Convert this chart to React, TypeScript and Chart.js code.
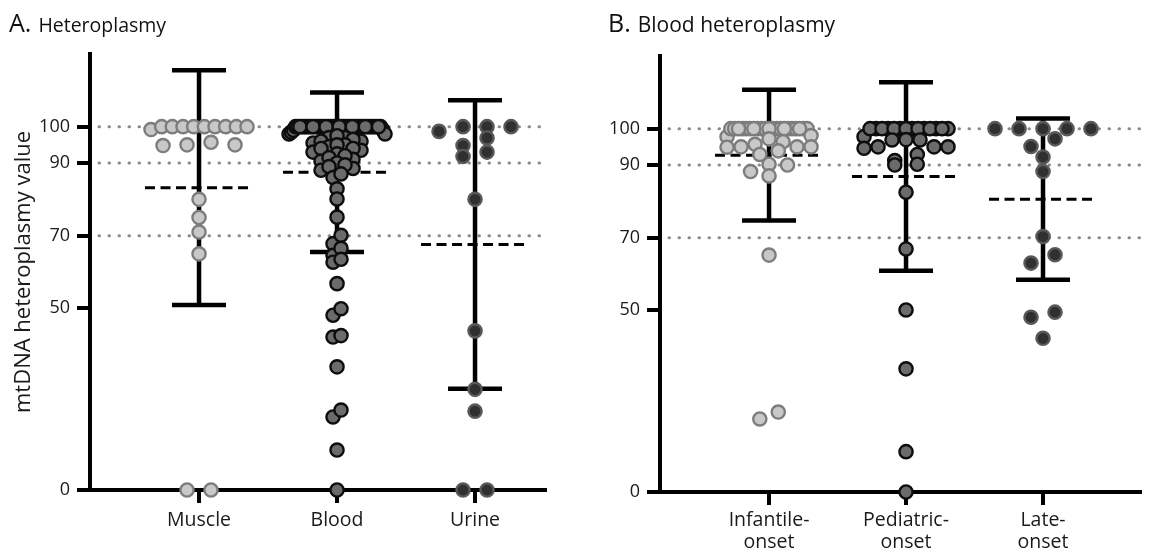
import React, { useEffect, useRef } from 'react';
import { Chart, registerables } from 'chart.js';

Chart.register(...registerables);

const FONT = '"Open Sans", "Noto Sans", sans-serif';

// ---------- data ----------
const CATEGORIES_A = ['Muscle', 'Blood', 'Urine'];
const CATEGORIES_B = [['Infantile-', 'onset'], ['Pediatric-', 'onset'], ['Late-', 'onset']];
const Y_TICKS = [0, 50, 70, 90, 100];
const REF_LINES = [100, 90, 70];

const muscle = [100, 100, 100, 100, 100, 100, 100, 100, 100, 99.2, 95.7, 95, 95, 94.8, 80, 75, 71, 65, 0, 0];
const blood = [
  100, 100, 100, 100, 100, 100, 100, 100, 100, 100,
  100, 100, 100, 100, 100, 100, 100, 100, 100, 100,
  100, 100, 100, 100, 100, 100, 100, 100, 100, 100,
  100, 100, 100, 100, 100, 100, 100, 100, 100, 100,
  99, 99, 98.5, 98, 98, 97.5, 97, 97, 96.5, 96, 96, 95.5, 95, 95, 94.5, 94, 94, 93.5, 93, 92.5,
  92, 91.5, 91, 90.5, 90, 89.5, 89, 88.5, 88, 87, 86,
  82.9, 80.1, 75.1, 70.1, 67.8, 66.5, 64.6, 63.5, 62.7, 56.8, 49.9, 48.1, 42.1, 42.5, 33.9, 22, 20.1, 11, 0,
];
const urine = [100, 100, 100, 98.7, 96.9, 94.8, 93, 91.8, 80, 43.8, 27.7, 21.7, 0, 0];
const infantile = [
  100, 100, 100, 100, 100, 100, 100, 100, 100, 100, 100, 100, 100, 100, 100, 100, 100, 100, 100, 100, 100,
  98.1, 97.8, 97.2, 96.4, 95.7, 95, 95, 94.9, 95, 93.9, 92.9, 90.2, 90, 88.2, 87, 65.2, 22, 20.1,
];
const pediatric = [
  100, 100, 100, 100, 100, 100, 100, 100, 100, 100, 100, 100, 100, 100,
  97.8, 96.9, 97, 94.6, 95, 95, 95, 96.9, 92.9, 90.2, 90, 91.2, 82.5, 66.9, 50.1, 33.9, 11.1, 0,
];
const lateOnset = [100, 100, 100, 100, 100, 97.2, 95.1, 92.2, 88.2, 70.3, 65.3, 63, 49.5, 48.1, 42.3];

const meansA = [83.2, 87.45, 67.6];
const sdsA = [32.3, 21.95, 39.7];
const meansB = [92.7, 86.85, 80.6];
const sdsB = [18.0, 25.95, 22.2];

// ---------- styles ----------
const STYLE_LIGHT = { fill: '#c8c8c8', border: '#7d7d7d' };
const STYLE_MED = { fill: '#6b6b6b', border: '#0d0d0d' };
const STYLE_DARK = { fill: '#303030', border: '#595959' };

// Prism-like scatter layout: values grouped into rows, each row centred and spread.
// Returns the points in drawing order.
function swarmPoints(values: number[], center: number, pxPerX: number, maxHalf: number) {
  const ROW_TOL = 2.5;
  const sMax = Math.min(24, (24 * 30) / values.length);
  const order = values.map((_, i) => i).sort((a, b) => values[b] - values[a]);
  const rows: number[][] = [];
  let row: number[] | null = null;
  for (const i of order) {
    if (row && values[row[0]] - values[i] < ROW_TOL) row.push(i);
    else { row = [i]; rows.push(row); }
  }
  const pts: { x: number; y: number }[] = [];
  for (const r of rows) {
    const m = r.length;
    const s = m > 1 ? Math.min(sMax, (2 * maxHalf) / (m - 1)) : 0;
    const pos: number[] = [];
    for (let k = 0; k < m; k++) pos.push((k - (m - 1) / 2) * s);
    const slotOrder = pos.map((_, k) => k).sort((a, b) => Math.abs(pos[a]) - Math.abs(pos[b]) || pos[b] - pos[a]);
    const slotVal: number[] = new Array(m);
    r.forEach((idx, j) => { slotVal[slotOrder[j]] = values[idx]; });
    const stride = s > 0 ? Math.max(1, Math.round(14 / s)) : 1;
    const drawK = pos.map((_, k) => k).sort((a, b) => (a % stride) - (b % stride) || a - b);
    for (const k of drawK) pts.push({ x: center + pos[k] / pxPerX, y: slotVal[k] });
  }
  return pts;
}

const decorPlugin = {
  id: 'panelDecor',
  beforeDatasetsDraw(chart: any, _args: any, opts: any) {
    const { ctx, chartArea, scales } = chart;
    const xs = scales.x, ys = scales.y;
    ctx.save();
    ctx.strokeStyle = '#8a8a8a';
    ctx.lineWidth = 3;
    ctx.lineCap = 'round';
    ctx.setLineDash([0.5, 9.5]);
    for (const v of opts.refLines) {
      const py = ys.getPixelForValue(v);
      ctx.beginPath();
      ctx.moveTo(chartArea.left + 9, py);
      ctx.lineTo(chartArea.right, py);
      ctx.stroke();
    }
    ctx.setLineDash([]);
    ctx.lineCap = 'butt';
    ctx.strokeStyle = '#000';
    ctx.lineWidth = 4.5;
    opts.means.forEach((m: number, i: number) => {
      const px = xs.getPixelForValue(i + 1);
      const hi = ys.getPixelForValue(m + opts.sds[i]);
      const lo = ys.getPixelForValue(m - opts.sds[i]);
      ctx.beginPath();
      ctx.moveTo(px, hi); ctx.lineTo(px, lo);
      ctx.moveTo(px - 27, hi); ctx.lineTo(px + 27, hi);
      ctx.moveTo(px - 27, lo); ctx.lineTo(px + 27, lo);
      ctx.stroke();
    });
    ctx.lineWidth = 3;
    ctx.setLineDash([10, 5.5]);
    opts.means.forEach((m: number, i: number) => {
      const px = xs.getPixelForValue(i + 1);
      const py = ys.getPixelForValue(m);
      ctx.beginPath();
      ctx.moveTo(px - 54, py);
      ctx.lineTo(px + 54, py);
      ctx.stroke();
    });
    ctx.restore();
  },
  afterDraw(chart: any, _args: any, opts: any) {
    const { ctx } = chart;
    ctx.save();
    ctx.fillStyle = '#111';
    ctx.textBaseline = 'alphabetic';
    ctx.font = `${opts.letterSize}px ${FONT}`;
    ctx.fillText(opts.letter, opts.tx, opts.ty);
    const w = ctx.measureText(opts.letter).width;
    ctx.font = `${opts.textSize}px ${FONT}`;
    ctx.fillText(opts.text, opts.tx + w + 7, opts.ty);
    ctx.restore();
  },
};

interface PanelProps {
  width: number;
  groups: number[][];
  styles: { fill: string; border: string }[];
  categories: (string | string[])[];
  means: number[];
  sds: number[];
  xMin: number;
  xMax: number;
  pxPerX: number;
  maxHalf: number[];
  padding: { left: number; top: number; right: number; bottom: number };
  yWidth: number;
  xHeight: number;
  xLabelPad: number;
  yTitle: string | null;
  letter: string;
  text: string;
  tx: number;
  letterSize: number;
  textSize: number;
}

function Panel(p: PanelProps) {
  const ref = useRef<HTMLCanvasElement>(null);
  useEffect(() => {
    if (!ref.current) return;
    const datasets = p.groups.map((vals, gi) => ({
      data: swarmPoints(vals, gi + 1, p.pxPerX, p.maxHalf[gi]),
      pointRadius: 6.6,
      pointHoverRadius: 6.6,
      pointBackgroundColor: p.styles[gi].fill,
      pointBorderColor: p.styles[gi].border,
      pointBorderWidth: 2.4,
      clip: false,
    }));
    const tickFont = { family: FONT, size: 18 };
    const chart = new Chart(ref.current, {
      type: 'scatter',
      data: { datasets } as any,
      plugins: [decorPlugin],
      options: {
        animation: false,
        responsive: false,
        events: [],
        layout: { padding: p.padding },
        plugins: {
          legend: { display: false },
          tooltip: { enabled: false },
          panelDecor: {
            refLines: REF_LINES, means: p.means, sds: p.sds,
            letter: p.letter, text: p.text, tx: p.tx, ty: 32,
            letterSize: p.letterSize, textSize: p.textSize,
          },
        } as any,
        scales: {
          x: {
            type: 'linear',
            min: p.xMin,
            max: p.xMax,
            afterBuildTicks: (s: any) => { s.ticks = p.categories.map((_, i) => ({ value: i + 1 })); },
            afterFit: (s: any) => { s.height = p.xHeight; },
            ticks: {
              callback: (_v: any, i: number) => p.categories[i] as any,
              font: { family: FONT, size: 19.5, lineHeight: 1.13 },
              color: '#1a1a1a',
              padding: p.xLabelPad,
              autoSkip: false,
              maxRotation: 0,
            },
            grid: { drawOnChartArea: false, drawTicks: true, tickLength: 13, lineWidth: 4, color: '#000' },
            border: { display: true, width: 4, color: '#000' },
          },
          y: {
            min: 0,
            max: 120,
            afterBuildTicks: (s: any) => { s.ticks = Y_TICKS.map((v) => ({ value: v })); },
            afterFit: (s: any) => { s.width = p.yWidth; },
            ticks: { font: tickFont, color: '#1a1a1a', padding: 7, autoSkip: false, callback: (v: any) => String(v) },
            grid: { drawOnChartArea: false, drawTicks: true, tickLength: 13, lineWidth: 4, color: '#000' },
            border: { display: true, width: 4, color: '#000' },
            title: p.yTitle
              ? { display: true, text: p.yTitle, font: { family: FONT, size: 22 }, color: '#1a1a1a', padding: 2 }
              : { display: false },
          },
        },
      } as any,
    });
    return () => chart.destroy();
  }, []);
  return <canvas ref={ref} width={p.width} height={551} style={{ display: 'block', width: p.width, height: 551 }} />;
}

export default function App() {
  return (
    <div style={{ position: 'fixed', left: 0, top: 0, width: 1151, height: 551, background: '#fff', display: 'flex' }}>
      <Panel
        width={575}
        groups={[muscle, blood, urine]}
        styles={[STYLE_LIGHT, STYLE_MED, STYLE_DARK]}
        categories={CATEGORIES_A}
        means={meansA}
        sds={sdsA}
        xMin={0.21}
        xMax={3.507}
        pxPerX={138}
        maxHalf={[48, 48, 48]}
        padding={{ left: 9, top: 54, right: 30, bottom: 0 }}
        yWidth={81}
        xHeight={61}
        xLabelPad={6}
        yTitle="mtDNA heteroplasmy value"
        letter="A."
        text="Heteroplasmy"
        tx={9}
        letterSize={25}
        textSize={19.5}
      />
      <Panel
        width={576}
        groups={[infantile, pediatric, lateOnset]}
        styles={[STYLE_LIGHT, STYLE_MED, STYLE_DARK]}
        categories={CATEGORIES_B}
        means={meansB}
        sds={sdsB}
        xMin={0.204}
        xMax={3.708}
        pxPerX={137}
        maxHalf={[42, 42, 48]}
        padding={{ left: 0, top: 56, right: 11, bottom: 0 }}
        yWidth={85}
        xHeight={59}
        xLabelPad={4}
        yTitle={null}
        letter="B."
        text="Blood heteroplasmy"
        tx={33}
        letterSize={25}
        textSize={21}
      />
    </div>
  );
}
